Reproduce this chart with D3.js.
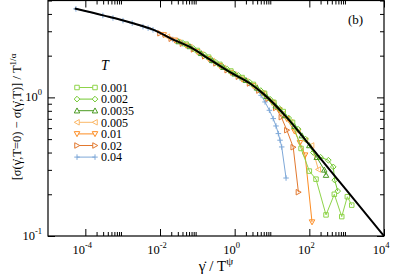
<!DOCTYPE html>
<html>
<head>
<meta charset="utf-8">
<script src="https://cdnjs.cloudflare.com/ajax/libs/d3/7.8.5/d3.min.js"></script>
<style>
  body { margin: 0; background: #fff; }
  svg { display: block; }
  text { font-family: "Liberation Serif", "Times New Roman", serif; fill: #000; }
</style>
</head>
<body>
<svg id="chart" width="395" height="277"></svg>
<script>
// master curve (black line)
const masterX = [5.2e-5, 3.2e-4, 1.8e-3, 6.5e-3, 0.025, 0.063, 0.22, 0.75, 2.6, 5.9, 24.5, 85, 1000, 1e4];
const masterY = [4.38, 3.89, 3.44, 3.08, 2.58, 2.31, 1.87, 1.52, 1.26, 1.06, 0.72, 0.48, 0.213, 0.1];

// scaled data, one pair of arrays per temperature
const x0001 = [0.05, 0.1, 0.2, 0.4, 0.79, 1.58, 3.16, 6.3, 11.2, 20, 35.5, 60, 100, 151, 280, 467, 738, 1042, 1368];
const y0001 = [2.42, 2.18, 1.95, 1.73, 1.55, 1.39, 1.24, 1.07, 0.92, 0.79, 0.66, 0.428, 0.294, 0.257, 0.142, 0.20, 0.138, 0.192, 0.167];
const x0002 = [0.04, 0.079, 0.158, 0.316, 0.63, 1.26, 2.5, 5, 8.9, 15.8, 28, 50, 79, 128, 200, 323, 437, 479, 575];
const y0002 = [2.48, 2.25, 2.02, 1.79, 1.60, 1.44, 1.29, 1.12, 0.97, 0.83, 0.71, 0.59, 0.50, 0.40, 0.37, 0.352, 0.315, 0.253, 0.211];
const x00035 = [0.0316, 0.063, 0.126, 0.25, 0.5, 1, 2, 4, 7.1, 12.6, 22.4, 40, 63, 100, 158, 251, 280];
const y00035 = [2.53, 2.33, 2.08, 1.85, 1.65, 1.48, 1.33, 1.17, 1.02, 0.87, 0.74, 0.62, 0.53, 0.45, 0.37, 0.30, 0.275];
const x0005 = [0.0158, 0.0316, 0.063, 0.126, 0.25, 0.5, 1, 2, 3.55, 6.3, 11.2, 20, 31.6, 50, 79, 115, 174];
const y0005 = [2.74, 2.51, 2.31, 2.05, 1.83, 1.63, 1.46, 1.31, 1.18, 1.04, 0.89, 0.764, 0.664, 0.57, 0.489, 0.45, 0.302];
const x001 = [0.0126, 0.025, 0.05, 0.1, 0.2, 0.4, 0.79, 1.58, 3.16, 5.6, 10, 15.8, 25, 40, 56, 77, 118];
const y001 = [2.82, 2.58, 2.37, 2.13, 1.90, 1.69, 1.51, 1.35, 1.21, 1.07, 0.92, 0.81, 0.70, 0.57, 0.47, 0.383, 0.126];
const x002 = [0.01, 0.02, 0.04, 0.079, 0.158, 0.316, 0.63, 1.26, 2.5, 4.47, 7.9, 12.6, 17.8, 25, 37, 51];
const y002 = [2.90, 2.65, 2.44, 2.22, 1.98, 1.76, 1.57, 1.41, 1.26, 1.12, 0.98, 0.84, 0.72, 0.58, 0.437, 0.207];
const x004 = [5.6e-5, 2.95e-4, 5.5e-4, 1.02e-3, 1.8e-3, 3.5e-3, 4.8e-3, 6.5e-3, 0.012, 0.022, 0.04, 0.071, 0.13, 0.24, 0.45, 0.79, 1.4, 2.5, 3.8, 5.1, 6.5, 8.5, 10.8, 12.8, 14.8, 16.4, 18.2, 23.8];
const y004 = [4.35, 3.9, 3.74, 3.58, 3.43, 3.24, 3.16, 3.07, 2.84, 2.62, 2.44, 2.26, 2.04, 1.84, 1.66, 1.51, 1.38, 1.26, 1.15, 1.035, 0.927, 0.807, 0.703, 0.622, 0.548, 0.491, 0.439, 0.262];

const tempLabels = ["0.001", "0.002", "0.0035", "0.005", "0.01", "0.02", "0.04"];
const xTicks = [1e-4, 1e-2, 1, 1e2, 1e4];
const xTickExp = ["-4", "-2", "0", "2", "4"];
const yTicks = [0.1, 1];
const yTickExp = ["-1", "0"];

const series = [
  {xs: x0001, ys: y0001, color: "#8fd44a", sym: "square"},
  {xs: x0002, ys: y0002, color: "#72c930", sym: "diamond"},
  {xs: x00035, ys: y00035, color: "#4a9a22", sym: "up"},
  {xs: x0005, ys: y0005, color: "#fbb868", sym: "left"},
  {xs: x001, ys: y001, color: "#fd8c22", sym: "down"},
  {xs: x002, ys: y002, color: "#e2782e", sym: "right"},
  {xs: x004, ys: y004, color: "#7ea8d8", sym: "plus"}
];

// layout
const pLeft = 48, pRight = 384, pTop = 0.5, pBottom = 236;

const svg = d3.select("#chart");

const x = d3.scaleLog().domain([1e-5, 1e4]).range([pLeft, pRight]);
const y = d3.scaleLog().domain([0.1, 5]).range([pBottom, pTop]);

// minor ticks: 2..9 x each labelled decade
const xMinor = [];
xTicks.slice(0, -1).forEach(function(d) {
  for (let k = 2; k <= 9; k++) xMinor.push(d * k);
});
const yMinor = [];
[0.1, 1].forEach(function(d) {
  for (let k = 2; k <= 9; k++) if (d * k <= 5) yMinor.push(d * k);
});

function axisGroup(axis, tx, ty) {
  const g = svg.append("g")
      .attr("transform", "translate(" + tx + "," + ty + ")")
      .call(axis);
  g.select(".domain").remove();
  g.selectAll("line").attr("stroke", "#000").attr("stroke-width", 1);
  return g;
}

axisGroup(d3.axisBottom(x).tickValues(xTicks).tickSizeInner(-7).tickSizeOuter(0).tickFormat(""), 0, pBottom);
axisGroup(d3.axisBottom(x).tickValues(xMinor).tickSizeInner(-4).tickSizeOuter(0).tickFormat(""), 0, pBottom);
axisGroup(d3.axisTop(x).tickValues(xTicks).tickSizeInner(-7).tickSizeOuter(0).tickFormat(""), 0, pTop);
axisGroup(d3.axisTop(x).tickValues(xMinor).tickSizeInner(-4).tickSizeOuter(0).tickFormat(""), 0, pTop);
axisGroup(d3.axisLeft(y).tickValues(yTicks).tickSizeInner(-7).tickSizeOuter(0).tickFormat(""), pLeft, 0);
axisGroup(d3.axisLeft(y).tickValues(yMinor).tickSizeInner(-4).tickSizeOuter(0).tickFormat(""), pLeft, 0);
axisGroup(d3.axisRight(y).tickValues(yTicks).tickSizeInner(-7).tickSizeOuter(0).tickFormat(""), pRight, 0);
axisGroup(d3.axisRight(y).tickValues(yMinor).tickSizeInner(-4).tickSizeOuter(0).tickFormat(""), pRight, 0);

// frame
svg.append("rect")
    .attr("x", pLeft).attr("y", pTop)
    .attr("width", pRight - pLeft).attr("height", pBottom - pTop)
    .attr("fill", "none").attr("stroke", "#000").attr("stroke-width", 1.2);

// tick labels
xTicks.forEach(function(d, i) {
  const t = svg.append("text")
      .attr("x", x(d) - 3).attr("y", 254)
      .attr("text-anchor", "middle")
      .style("font-size", "12.5px");
  t.append("tspan").text("10");
  t.append("tspan").attr("dy", -6).style("font-size", "8.5px").text(xTickExp[i]);
});
yTicks.forEach(function(d, i) {
  const t = svg.append("text")
      .attr("x", 42).attr("y", y(d) + 4)
      .attr("text-anchor", "end")
      .style("font-size", "12.5px");
  t.append("tspan").text("10");
  t.append("tspan").attr("dy", -6).style("font-size", "8.5px").text(yTickExp[i]);
});

// axis titles
const xt = svg.append("text")
    .attr("x", 216).attr("y", 271)
    .attr("text-anchor", "middle")
    .style("font-size", "15px");
xt.append("tspan").text("\u03B3\u0307 / T");
xt.append("tspan").attr("dy", -6).style("font-size", "11px").text("\u03C8");

const yt = svg.append("text")
    .attr("transform", "translate(21,117) rotate(-90)")
    .attr("text-anchor", "middle")
    .style("font-size", "12.5px");
yt.append("tspan").text("[\u03C3(\u03B3\u0307,T=0) \u2212 \u03C3(\u03B3\u0307,T)] / T");
yt.append("tspan").attr("dy", -5).style("font-size", "9px").text("1/\u03B1");

svg.append("text")
    .attr("x", 348).attr("y", 24)
    .style("font-size", "13px")
    .text("(b)");

// clip
svg.append("clipPath").attr("id", "clip")
  .append("rect")
    .attr("x", pLeft).attr("y", pTop)
    .attr("width", pRight - pLeft).attr("height", pBottom - pTop);

const plot = svg.append("g").attr("clip-path", "url(#clip)");

function symPath(sym, s) {
  const h = s / 2;
  switch (sym) {
    case "square": return "M" + (-h) + "," + (-h) + "h" + s + "v" + s + "h" + (-s) + "Z";
    case "diamond": return "M0," + (-h - 0.6) + "L" + (h + 0.6) + ",0L0," + (h + 0.6) + "L" + (-h - 0.6) + ",0Z";
    case "up": return "M0," + (-h - 0.5) + "L" + (h + 0.5) + "," + h + "L" + (-h - 0.5) + "," + h + "Z";
    case "down": return "M0," + (h + 0.5) + "L" + (h + 0.5) + "," + (-h) + "L" + (-h - 0.5) + "," + (-h) + "Z";
    case "left": return "M" + (-h - 0.5) + ",0L" + h + "," + (-h - 0.5) + "L" + h + "," + (h + 0.5) + "Z";
    case "right": return "M" + (h + 0.5) + ",0L" + (-h) + "," + (-h - 0.5) + "L" + (-h) + "," + (h + 0.5) + "Z";
    default: return "M" + (-h - 0.5) + ",0h" + (s + 1) + "M0," + (-h - 0.5) + "v" + (s + 1);
  }
}

const line = d3.line()
    .x(function(d) { return x(d[0]); })
    .y(function(d) { return y(d[1]); });

// draw series, highest T first so low-T greens sit on top
series.slice().reverse().forEach(function(s) {
  const pts = s.xs.map(function(v, i) { return [v, s.ys[i]]; });
  plot.append("path")
      .attr("d", line(pts))
      .attr("fill", "none")
      .attr("stroke", s.color)
      .attr("stroke-width", 1);
  plot.selectAll(null)
      .data(pts)
      .enter()
      .append("path")
      .attr("transform", function(d) { return "translate(" + x(d[0]) + "," + y(d[1]) + ")"; })
      .attr("d", symPath(s.sym, 4.5))
      .attr("fill", "none")
      .attr("stroke", s.color)
      .attr("stroke-width", 1);
});

// master curve
const masterPts = masterX.map(function(v, i) { return [v, masterY[i]]; });
plot.append("path")
    .attr("d", d3.line()
        .x(function(d) { return x(d[0]); })
        .y(function(d) { return y(d[1]); })
        .curve(d3.curveMonotoneX)(masterPts))
    .attr("fill", "none")
    .attr("stroke", "#000")
    .attr("stroke-width", 2);

// legend
svg.append("text")
    .attr("x", 101).attr("y", 70)
    .style("font-size", "14px")
    .style("font-style", "italic")
    .text("T");

series.forEach(function(s, i) {
  const ly = 87.5 + i * 11.6;
  const g = svg.append("g");
  g.append("line")
      .attr("x1", 77).attr("x2", 95)
      .attr("y1", ly).attr("y2", ly)
      .attr("stroke", s.color).attr("stroke-width", 1);
  [77, 95].forEach(function(px) {
    g.append("path")
        .attr("transform", "translate(" + px + "," + ly + ")")
        .attr("d", symPath(s.sym, 4.5))
        .attr("fill", "#fff")
        .attr("stroke", s.color)
        .attr("stroke-width", 1);
  });
  g.append("text")
      .attr("x", 101).attr("y", ly + 4.2)
      .style("font-size", "12px")
      .text(tempLabels[i]);
});
</script>
</body>
</html>
